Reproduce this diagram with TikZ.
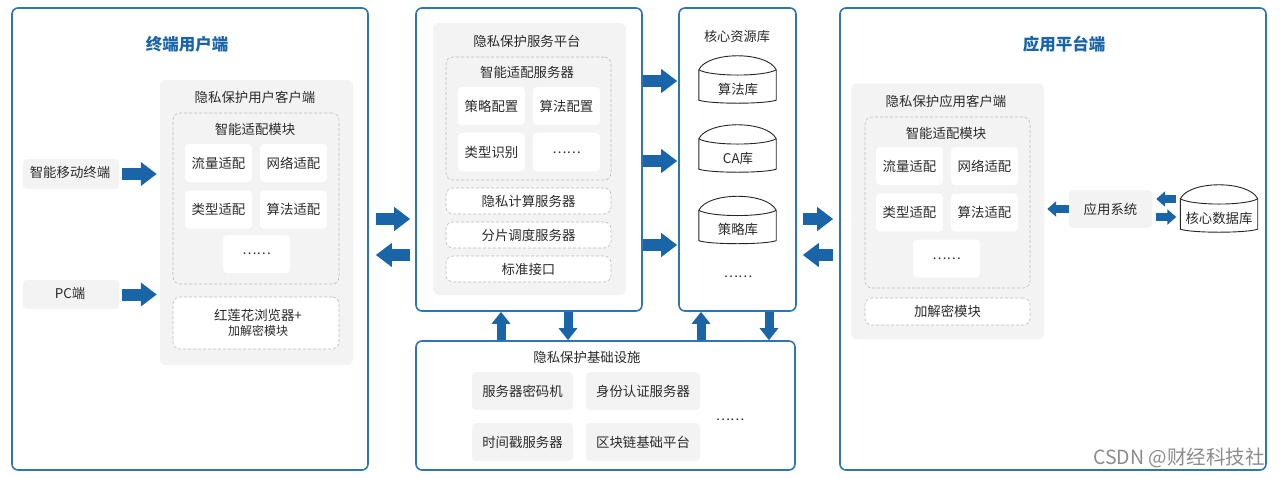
\documentclass[tikz,border=0pt]{standalone}
\usepackage{fontspec}
\setmainfont{Noto Sans CJK SC}
\usetikzlibrary{arrows.meta, positioning}

\definecolor{panelblue}{HTML}{2E75B6}
\definecolor{arrowblue}{HTML}{1A65A8}
\definecolor{softgray}{HTML}{F3F3F3}
\definecolor{dashgray}{HTML}{BDBDBD}
\definecolor{inktext}{HTML}{2B2B2B}

\tikzset{
  panel/.style = {draw=panelblue, line width=1.6pt, rounded corners=6pt, fill=white, inner sep=0pt},
  greybox/.style = {fill=softgray, rounded corners=6pt, inner sep=0pt},
  dashbox/.style = {draw=dashgray, densely dashed, line width=.6pt, rounded corners=7pt, inner sep=0pt},
  whitedash/.style = {dashbox, fill=white, minimum width=165pt, minimum height=26pt},
  card/.style = {fill=white, rounded corners=4pt, inner sep=0pt, minimum width=67pt, minimum height=38pt},
  greycard/.style = {greybox, rounded corners=4pt},
  title/.style = {text=arrowblue, font=\fontsize{16.5}{19}\selectfont\bfseries},
  caption/.style = {text=inktext, font=\fontsize{13.4}{16}\selectfont},
  drumbox/.style = {inner sep=0pt, minimum width=77pt, minimum height=47pt},
  drumline/.style = {draw=black!85, line width=.9pt, fill=white},
  bigarrow/.style = {draw=arrowblue, line width=12pt, -{Triangle[width=23pt, length=16pt]}},
  midarrow/.style = {draw=arrowblue, line width=9pt, -{Triangle[width=18pt, length=12pt]}},
  thinarrow/.style = {draw=arrowblue, line width=7.5pt, -{Triangle[width=15pt, length=9pt]}},
}

% flat drum drawn on a named box
\newcommand{\drum}[1]{
  \draw[drumline] ([yshift=-14pt]#1.north west)
    .. controls ([xshift=9pt, yshift=4.7pt]#1.north west) and ([xshift=-9pt, yshift=4.7pt]#1.north east) .. ([yshift=-14pt]#1.north east)
    -- ([yshift=3pt]#1.south east)
    .. controls ([xshift=-12pt, yshift=-1pt]#1.south east) and ([xshift=12pt, yshift=-1pt]#1.south west) .. ([yshift=3pt]#1.south west)
    -- cycle;
  \draw[drumline, fill=none] ([yshift=-14pt]#1.north west)
    .. controls ([xshift=12pt, yshift=-21pt]#1.north west) and ([xshift=-12pt, yshift=-21pt]#1.north east) .. ([yshift=-14pt]#1.north east);
}

\begin{document}
\begin{tikzpicture}[x=1pt, y=-1pt, on grid, every node/.style={caption}]
  \path[use as bounding box, fill=white] (0,0) rectangle (1280,477);

  % user side
  \node[panel, minimum width=356pt, minimum height=462pt] (userside) at (190,239) {};
  \node[title] (usertitle) at (187,44) {终端用户端};
  \node[greybox, minimum width=193pt, minimum height=285pt] (userclient) at (256.5,222.5) {};
  \node (userclientname) at (255,97) {隐私保护用户客户端};
  \node[dashbox, minimum width=166pt, minimum height=171pt] (useradapt) at (256,198.5) {};
  \node (useradaptname) at (255,129) {智能适配模块};
  \node[card] (userflow) at (218.5,163) {流量适配};
  \node[card] (usernet) [right=75pt of userflow] {网络适配};
  \node[card] (usertype) [below=46.5pt of userflow] {类型适配};
  \node[card] (useralg) [right=75pt of usertype] {算法适配};
  \node[card] (usermore) at (256.5,254) {……};
  \node[dashbox, fill=white, minimum width=166pt, minimum height=52pt] (browser) at (256,323) {};
  \node (browsername) at (258,315) {红莲花浏览器+};
  \node[font=\fontsize{12}{14}\selectfont] (browsermod) [below=16pt of browsername] {加解密模块};
  \node[greycard, minimum width=96pt, minimum height=30pt] (mobile) at (71,174) {};
  \node (mobilename) at (70,172) {智能移动终端};
  \node[greycard, minimum width=96pt, minimum height=29pt] (pc) [below=120.5pt of mobile] {};
  \node (pcname) at (70,293) {PC端};

  % service platform
  \node[panel, minimum width=226pt, minimum height=303pt] (platform) at (529,159.5) {};
  \node[greybox, minimum width=193pt, minimum height=272pt] (service) at (529.5,159) {};
  \node (servicename) at (527,41) {隐私保护服务平台};
  \node[dashbox, minimum width=165pt, minimum height=123pt] (serveradapt) at (528.5,118.5) {};
  \node (serveradaptname) at (527,72) {智能适配服务器};
  \node[card] (policy) at (491.5,106) {策略配置};
  \node[card] (algset) [right=75pt of policy] {算法配置};
  \node[card] (kind) [below=46pt of policy] {类型识别};
  \node[card] (setmore) [right=75pt of kind] {\raisebox{-3pt}{……}};
  \node[whitedash] (compute) at (528.5,201) {隐私计算服务器};
  \node[whitedash] (shard) [below=34pt of compute] {分片调度服务器};
  \node[whitedash] (iface) [below=34pt of shard] {标准接口};

  % core stores
  \node[panel, minimum width=117pt, minimum height=303pt] (core) at (737.5,159.5) {};
  \node[font=\fontsize{13.2}{15}\selectfont] (corename) at (737,36) {核心资源库};
  \node[drumbox] (algdb) at (737.5,79.5) {};
  \drum{algdb}
  \node (algname) at (738,89) {算法库};
  \node[drumbox] (cadb) at (737.5,148.5) {};
  \drum{cadb}
  \node (caname) at (738,158) {CA库};
  \node[drumbox] (policydb) at (737.5,220) {};
  \drum{policydb}
  \node (policyname) at (738,229) {策略库};
  \node (coremore) at (738,277) {……};

  % infrastructure
  \node[panel, minimum width=379pt, minimum height=129pt] (infra) at (605.5,405.5) {};
  \node (infraname) at (587,357) {隐私保护基础设施};
  \node[greycard, minimum width=101pt, minimum height=38pt] (hsm) at (522.5,391) {服务器密码机};
  \node[greycard, minimum width=114pt, minimum height=38pt] (idauth) at (643,391) {身份认证服务器};
  \node[greycard, minimum width=101pt, minimum height=38pt] (stamp) [below=51pt of hsm] {时间戳服务器};
  \node[greycard, minimum width=114pt, minimum height=38pt] (chain) [below=51pt of idauth] {区块链基础平台};
  \node (inframore) at (730,420) {……};

  % app side
  \node[panel, minimum width=426pt, minimum height=462pt] (appside) at (1053,239) {};
  \node[title] (apptitle) at (1064,44) {应用平台端};
  \node[greybox, minimum width=193pt, minimum height=256pt] (appclient) at (947.5,211) {};
  \node (appclientname) at (946,101) {隐私保护应用客户端};
  \node[dashbox, minimum width=165pt, minimum height=171pt] (appadapt) at (947.5,202.5) {};
  \node (appadaptname) at (946,133) {智能适配模块};
  \node[card] (appflow) at (909.5,166) {流量适配};
  \node[card] (appnet) [right=75pt of appflow] {网络适配};
  \node[card] (apptype) [below=46.5pt of appflow] {类型适配};
  \node[card] (appalg) [right=75pt of apptype] {算法适配};
  \node[card] (appmore) at (946.5,258.5) {……};
  \node[dashbox, fill=white, minimum width=165pt, minimum height=27pt] (appcrypt) at (947.5,311.5) {加解密模块};
  \node[greycard, minimum width=83pt, minimum height=38pt] (appsys) at (1110.5,209) {应用系统};
  \node[drumbox] (coredb) at (1219,208.5) {};
  \drum{coredb}
  \node (coredbname) at (1219,218) {核心数据库};

  \node[text=black!45, font=\fontsize{19.5}{22}\selectfont] (mark) at (1179,458) {CSDN @财经科技社};

  % levels of the arrows
  \coordinate (toplevel) at (0,219);
  \coordinate (lowlevel) at (0,255);
  \coordinate (algside) at (0,81);
  \coordinate (caside) at (0,161);
  \coordinate (policyside) at (0,245);
  \coordinate (dbup) at (0,199);
  \coordinate (dbdown) at (0,217);
  \coordinate (platup) at (501,0);
  \coordinate (platdown) at (568,0);
  \coordinate (coreup) at (701,0);
  \coordinate (coredown) at (769,0);

  \draw[bigarrow, shorten <=3pt, shorten >=3pt] (mobile) -- (userclient.west |- mobile);
  \draw[bigarrow, shorten <=3pt, shorten >=3pt] (pc) -- (userclient.west |- pc);
  \draw[bigarrow, shorten <=7pt, shorten >=5pt] (userside.east |- toplevel) -- (platform.west |- toplevel);
  \draw[bigarrow, shorten <=5pt, shorten >=7pt] (platform.west |- lowlevel) -- (userside.east |- lowlevel);
  \draw[bigarrow, shorten >=1pt] (platform.east |- algside) -- (core.west |- algside);
  \draw[bigarrow, shorten >=1pt] (platform.east |- caside) -- (core.west |- caside);
  \draw[bigarrow, shorten >=1pt] (platform.east |- policyside) -- (core.west |- policyside);
  \draw[bigarrow, shorten <=6pt, shorten >=6pt] (core.east |- toplevel) -- (appside.west |- toplevel);
  \draw[bigarrow, shorten <=6pt, shorten >=6pt] (appside.west |- lowlevel) -- (core.east |- lowlevel);
  \draw[midarrow] (infra.north -| platup) -- (platform.south -| platup);
  \draw[midarrow] (platform.south -| platdown) -- (infra.north -| platdown);
  \draw[midarrow] (infra.north -| coreup) -- (core.south -| coreup);
  \draw[midarrow] (core.south -| coredown) -- (infra.north -| coredown);
  \draw[thinarrow, shorten >=3pt] (appsys) -- (appclient.east |- appsys);
  \draw[thinarrow, shorten <=4pt, shorten >=4pt] (coredb.west |- dbup) -- (appsys.east |- dbup);
  \draw[thinarrow, shorten <=4pt, shorten >=4pt] (appsys.east |- dbdown) -- (coredb.west |- dbdown);
\end{tikzpicture}
\end{document}
